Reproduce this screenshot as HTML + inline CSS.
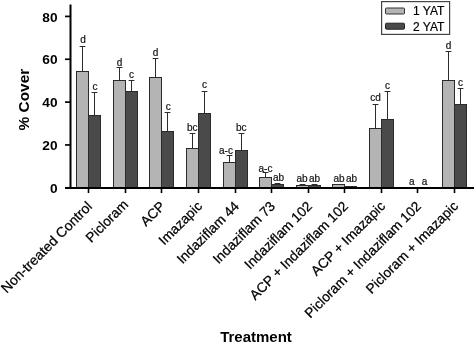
<!DOCTYPE html>
<html><head><meta charset="utf-8"><style>
html,body{margin:0;padding:0;background:#fff;width:475px;height:344px;overflow:hidden}
svg{display:block;will-change:transform;font-family:"Liberation Sans",sans-serif}
</style></head><body>
<svg width="475" height="344" viewBox="0 0 475 344">
<rect width="475" height="344" fill="#fff"/>
<rect x="76.5" y="71.5" width="12" height="116" fill="#b4b4b4" stroke="#2b2b2b" stroke-width="1"/>
<line x1="82.5" y1="46.5" x2="82.5" y2="71" stroke="#2b2b2b" stroke-width="1"/>
<line x1="79.6" y1="46.5" x2="85.4" y2="46.5" stroke="#2b2b2b" stroke-width="1"/>
<text x="83.0" y="43.30" text-anchor="middle" font-size="10" fill="#111" stroke="#111" stroke-width="0.2">d</text>
<rect x="88.5" y="115.5" width="12" height="72" fill="#4a4a4a" stroke="#2b2b2b" stroke-width="1"/>
<line x1="94.5" y1="92.5" x2="94.5" y2="115" stroke="#2b2b2b" stroke-width="1"/>
<line x1="91.6" y1="92.5" x2="97.4" y2="92.5" stroke="#2b2b2b" stroke-width="1"/>
<text x="95.1" y="89.90" text-anchor="middle" font-size="10" fill="#111" stroke="#111" stroke-width="0.2">c</text>
<rect x="113.5" y="80.5" width="12" height="107" fill="#b4b4b4" stroke="#2b2b2b" stroke-width="1"/>
<line x1="119.5" y1="67.5" x2="119.5" y2="80" stroke="#2b2b2b" stroke-width="1"/>
<line x1="116.6" y1="67.5" x2="122.4" y2="67.5" stroke="#2b2b2b" stroke-width="1"/>
<text x="119.5" y="66.30" text-anchor="middle" font-size="10" fill="#111" stroke="#111" stroke-width="0.2">d</text>
<rect x="125.5" y="91.5" width="12" height="96" fill="#4a4a4a" stroke="#2b2b2b" stroke-width="1"/>
<line x1="131.5" y1="80.5" x2="131.5" y2="91" stroke="#2b2b2b" stroke-width="1"/>
<line x1="128.6" y1="80.5" x2="134.4" y2="80.5" stroke="#2b2b2b" stroke-width="1"/>
<text x="131.5" y="77.80" text-anchor="middle" font-size="10" fill="#111" stroke="#111" stroke-width="0.2">c</text>
<rect x="149.5" y="77.5" width="12" height="110" fill="#b4b4b4" stroke="#2b2b2b" stroke-width="1"/>
<line x1="155.5" y1="58.5" x2="155.5" y2="77" stroke="#2b2b2b" stroke-width="1"/>
<line x1="152.6" y1="58.5" x2="158.4" y2="58.5" stroke="#2b2b2b" stroke-width="1"/>
<text x="155.5" y="55.80" text-anchor="middle" font-size="10" fill="#111" stroke="#111" stroke-width="0.2">d</text>
<rect x="161.5" y="131.5" width="12" height="56" fill="#4a4a4a" stroke="#2b2b2b" stroke-width="1"/>
<line x1="167.5" y1="112.5" x2="167.5" y2="131" stroke="#2b2b2b" stroke-width="1"/>
<line x1="164.6" y1="112.5" x2="170.4" y2="112.5" stroke="#2b2b2b" stroke-width="1"/>
<text x="168.3" y="110.30" text-anchor="middle" font-size="10" fill="#111" stroke="#111" stroke-width="0.2">c</text>
<rect x="186.5" y="148.5" width="12" height="39" fill="#b4b4b4" stroke="#2b2b2b" stroke-width="1"/>
<line x1="192.5" y1="133.5" x2="192.5" y2="148" stroke="#2b2b2b" stroke-width="1"/>
<line x1="189.6" y1="133.5" x2="195.4" y2="133.5" stroke="#2b2b2b" stroke-width="1"/>
<text x="192.2" y="131.30" text-anchor="middle" font-size="10" fill="#111" stroke="#111" stroke-width="0.2">bc</text>
<rect x="198.5" y="113.5" width="12" height="74" fill="#4a4a4a" stroke="#2b2b2b" stroke-width="1"/>
<line x1="204.5" y1="91.5" x2="204.5" y2="113" stroke="#2b2b2b" stroke-width="1"/>
<line x1="201.6" y1="91.5" x2="207.4" y2="91.5" stroke="#2b2b2b" stroke-width="1"/>
<text x="204.5" y="88.30" text-anchor="middle" font-size="10" fill="#111" stroke="#111" stroke-width="0.2">c</text>
<rect x="223.5" y="162.5" width="12" height="25" fill="#b4b4b4" stroke="#2b2b2b" stroke-width="1"/>
<line x1="229.5" y1="155.5" x2="229.5" y2="162" stroke="#2b2b2b" stroke-width="1"/>
<line x1="226.6" y1="155.5" x2="232.4" y2="155.5" stroke="#2b2b2b" stroke-width="1"/>
<text x="226.0" y="154.00" text-anchor="middle" font-size="10" fill="#111" stroke="#111" stroke-width="0.2">a-c</text>
<rect x="235.5" y="150.5" width="12" height="37" fill="#4a4a4a" stroke="#2b2b2b" stroke-width="1"/>
<line x1="241.5" y1="133.5" x2="241.5" y2="150" stroke="#2b2b2b" stroke-width="1"/>
<line x1="238.6" y1="133.5" x2="244.4" y2="133.5" stroke="#2b2b2b" stroke-width="1"/>
<text x="241.2" y="131.40" text-anchor="middle" font-size="10" fill="#111" stroke="#111" stroke-width="0.2">bc</text>
<rect x="259.5" y="177.5" width="12" height="10" fill="#b4b4b4" stroke="#2b2b2b" stroke-width="1"/>
<line x1="265.5" y1="172.5" x2="265.5" y2="177" stroke="#2b2b2b" stroke-width="1"/>
<line x1="262.6" y1="172.5" x2="268.4" y2="172.5" stroke="#2b2b2b" stroke-width="1"/>
<text x="265.5" y="171.70" text-anchor="middle" font-size="10" fill="#111" stroke="#111" stroke-width="0.2">a-c</text>
<rect x="271.5" y="184.5" width="12" height="3" fill="#4a4a4a" stroke="#2b2b2b" stroke-width="1"/>
<line x1="277.5" y1="183.5" x2="277.5" y2="184" stroke="#2b2b2b" stroke-width="1"/>
<line x1="274.6" y1="183.5" x2="280.4" y2="183.5" stroke="#2b2b2b" stroke-width="1"/>
<text x="278.5" y="181.20" text-anchor="middle" font-size="10" fill="#111" stroke="#111" stroke-width="0.2">ab</text>
<rect x="296.5" y="185.5" width="12" height="2" fill="#b4b4b4" stroke="#2b2b2b" stroke-width="1"/>
<line x1="302.5" y1="184.5" x2="302.5" y2="185" stroke="#2b2b2b" stroke-width="1"/>
<line x1="299.6" y1="184.5" x2="305.4" y2="184.5" stroke="#2b2b2b" stroke-width="1"/>
<text x="302.0" y="181.90" text-anchor="middle" font-size="10" fill="#111" stroke="#111" stroke-width="0.2">ab</text>
<rect x="308.5" y="185.5" width="12" height="2" fill="#4a4a4a" stroke="#2b2b2b" stroke-width="1"/>
<line x1="314.5" y1="184.5" x2="314.5" y2="185" stroke="#2b2b2b" stroke-width="1"/>
<line x1="311.6" y1="184.5" x2="317.4" y2="184.5" stroke="#2b2b2b" stroke-width="1"/>
<text x="314.5" y="181.90" text-anchor="middle" font-size="10" fill="#111" stroke="#111" stroke-width="0.2">ab</text>
<rect x="332.5" y="184.5" width="12" height="3" fill="#b4b4b4" stroke="#2b2b2b" stroke-width="1"/>
<text x="339.0" y="182.00" text-anchor="middle" font-size="10" fill="#111" stroke="#111" stroke-width="0.2">ab</text>
<rect x="344.5" y="186.5" width="12" height="1" fill="#4a4a4a" stroke="#2b2b2b" stroke-width="1"/>
<text x="351.5" y="182.30" text-anchor="middle" font-size="10" fill="#111" stroke="#111" stroke-width="0.2">ab</text>
<rect x="369.5" y="128.5" width="12" height="59" fill="#b4b4b4" stroke="#2b2b2b" stroke-width="1"/>
<line x1="375.5" y1="104.5" x2="375.5" y2="128" stroke="#2b2b2b" stroke-width="1"/>
<line x1="372.6" y1="104.5" x2="378.4" y2="104.5" stroke="#2b2b2b" stroke-width="1"/>
<text x="375.5" y="101.30" text-anchor="middle" font-size="10" fill="#111" stroke="#111" stroke-width="0.2">cd</text>
<rect x="381.5" y="119.5" width="12" height="68" fill="#4a4a4a" stroke="#2b2b2b" stroke-width="1"/>
<line x1="387.5" y1="91.5" x2="387.5" y2="119" stroke="#2b2b2b" stroke-width="1"/>
<line x1="384.6" y1="91.5" x2="390.4" y2="91.5" stroke="#2b2b2b" stroke-width="1"/>
<text x="387.5" y="89.30" text-anchor="middle" font-size="10" fill="#111" stroke="#111" stroke-width="0.2">c</text>
<text x="411.8" y="184.80" text-anchor="middle" font-size="10" fill="#111" stroke="#111" stroke-width="0.2">a</text>
<text x="424.5" y="184.80" text-anchor="middle" font-size="10" fill="#111" stroke="#111" stroke-width="0.2">a</text>
<rect x="442.5" y="80.5" width="12" height="107" fill="#b4b4b4" stroke="#2b2b2b" stroke-width="1"/>
<line x1="448.5" y1="51.5" x2="448.5" y2="80" stroke="#2b2b2b" stroke-width="1"/>
<line x1="445.6" y1="51.5" x2="451.4" y2="51.5" stroke="#2b2b2b" stroke-width="1"/>
<text x="448.5" y="49.10" text-anchor="middle" font-size="10" fill="#111" stroke="#111" stroke-width="0.2">d</text>
<rect x="454.5" y="104.5" width="12" height="83" fill="#4a4a4a" stroke="#2b2b2b" stroke-width="1"/>
<line x1="460.5" y1="88.5" x2="460.5" y2="104" stroke="#2b2b2b" stroke-width="1"/>
<line x1="457.6" y1="88.5" x2="463.4" y2="88.5" stroke="#2b2b2b" stroke-width="1"/>
<text x="460.5" y="86.00" text-anchor="middle" font-size="10" fill="#111" stroke="#111" stroke-width="0.2">c</text>
<rect x="69.5" y="4.5" width="2" height="184.5" fill="#000"/>
<rect x="65" y="187" width="409" height="2" fill="#000"/>
<line x1="65" y1="187.80" x2="70" y2="187.80" stroke="#000" stroke-width="1.7"/>
<text x="57.6" y="192.90" text-anchor="end" font-size="13.7" font-weight="bold">0</text>
<line x1="65" y1="144.95" x2="70" y2="144.95" stroke="#000" stroke-width="1.7"/>
<text x="57.6" y="150.05" text-anchor="end" font-size="13.7" font-weight="bold">20</text>
<line x1="65" y1="102.10" x2="70" y2="102.10" stroke="#000" stroke-width="1.7"/>
<text x="57.6" y="107.20" text-anchor="end" font-size="13.7" font-weight="bold">40</text>
<line x1="65" y1="59.25" x2="70" y2="59.25" stroke="#000" stroke-width="1.7"/>
<text x="57.6" y="64.35" text-anchor="end" font-size="13.7" font-weight="bold">60</text>
<line x1="65" y1="16.40" x2="70" y2="16.40" stroke="#000" stroke-width="1.7"/>
<text x="57.6" y="21.50" text-anchor="end" font-size="13.7" font-weight="bold">80</text>
<line x1="88.5" y1="188" x2="88.5" y2="193" stroke="#000" stroke-width="1.6"/>
<text transform="translate(93.00,207.4) rotate(-45)" text-anchor="end" font-size="13.9" stroke="#000" stroke-width="0.25">Non-treated Control</text>
<line x1="125.5" y1="188" x2="125.5" y2="193" stroke="#000" stroke-width="1.6"/>
<text transform="translate(129.00,205.5) rotate(-45)" text-anchor="end" font-size="13.7" stroke="#000" stroke-width="0.25">Picloram</text>
<line x1="161.5" y1="188" x2="161.5" y2="193" stroke="#000" stroke-width="1.6"/>
<text transform="translate(166.00,207) rotate(-45)" text-anchor="end" font-size="13.7" stroke="#000" stroke-width="0.25">ACP</text>
<line x1="198.5" y1="188" x2="198.5" y2="193" stroke="#000" stroke-width="1.6"/>
<text transform="translate(203.00,207) rotate(-45)" text-anchor="end" font-size="13.7" stroke="#000" stroke-width="0.25">Imazapic</text>
<line x1="235.5" y1="188" x2="235.5" y2="193" stroke="#000" stroke-width="1.6"/>
<text transform="translate(240.00,207) rotate(-45)" text-anchor="end" font-size="13.7" stroke="#000" stroke-width="0.25">Indaziflam 44</text>
<line x1="271.5" y1="188" x2="271.5" y2="193" stroke="#000" stroke-width="1.6"/>
<text transform="translate(276.00,207) rotate(-45)" text-anchor="end" font-size="13.7" stroke="#000" stroke-width="0.25">Indaziflam 73</text>
<line x1="308.5" y1="188" x2="308.5" y2="193" stroke="#000" stroke-width="1.6"/>
<text transform="translate(313.00,207) rotate(-45)" text-anchor="end" font-size="13.7" stroke="#000" stroke-width="0.25">Indaziflam 102</text>
<line x1="344.5" y1="188" x2="344.5" y2="193" stroke="#000" stroke-width="1.6"/>
<text transform="translate(349.00,207) rotate(-45)" text-anchor="end" font-size="13.7" stroke="#000" stroke-width="0.25">ACP + Indaziflam 102</text>
<line x1="381.5" y1="188" x2="381.5" y2="193" stroke="#000" stroke-width="1.6"/>
<text transform="translate(386.00,207) rotate(-45)" text-anchor="end" font-size="13.7" stroke="#000" stroke-width="0.25">ACP + Imazapic</text>
<line x1="417.5" y1="188" x2="417.5" y2="193" stroke="#000" stroke-width="1.6"/>
<text transform="translate(422.00,207) rotate(-45)" text-anchor="end" font-size="13.7" stroke="#000" stroke-width="0.25">Picloram + Indaziflam 102</text>
<line x1="454.5" y1="188" x2="454.5" y2="193" stroke="#000" stroke-width="1.6"/>
<text transform="translate(459.00,207) rotate(-45)" text-anchor="end" font-size="13.7" stroke="#000" stroke-width="0.25">Picloram + Imazapic</text>
<text transform="translate(29.3,99.6) rotate(-90)" text-anchor="middle" font-size="15.4" font-weight="bold">% Cover</text>
<text x="256" y="342.4" text-anchor="middle" font-size="15" font-weight="bold">Treatment</text>
<rect x="381.6" y="1.6" width="68" height="32.8" fill="#fff" stroke="#444" stroke-width="1.2"/>
<rect x="385.5" y="8" width="19" height="6" rx="1" fill="#b4b4b4" stroke="#333" stroke-width="1"/>
<rect x="385.5" y="23.2" width="19" height="6" rx="1" fill="#4a4a4a" stroke="#222" stroke-width="1"/>
<text x="413" y="15" font-size="12" stroke="#000" stroke-width="0.2">1 YAT</text>
<text x="413" y="30.7" font-size="12" stroke="#000" stroke-width="0.2">2 YAT</text>
</svg>
</body></html>
